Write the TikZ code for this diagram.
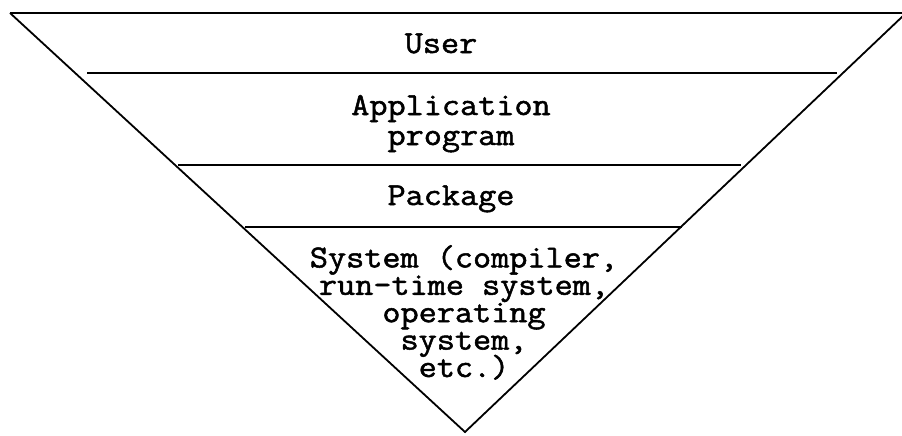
\documentclass[tikz,border=0pt]{standalone}
\usepackage{fontspec}
\setmonofont[FakeBold=1.6, FakeStretch=1.1]{Latin Modern Mono}
\usepackage{tikz}
\usetikzlibrary{calc}

\newcommand{\layerfont}{\ttfamily\fontsize{32}{27.4}\selectfont\lineskiplimit=-100pt\relax}
\tikzstyle{layer} = [
    inner sep=0pt,
    align=center,
    font=\layerfont
]
\tikzstyle{divider} = [
    line width=2.8pt
]
\tikzstyle{side} = [
    line width=1.8pt
]

\begin{document}
\begin{tikzpicture}[x=1pt, y=-1pt]
    \useasboundingbox (0,0) rectangle (902,436);

    % Funnel corners
    \coordinate (topleft) at (10,13);
    \coordinate (topright) at (902,13);
    \coordinate (tip) at (465,432);
    \coordinate (rightend) at (904,15);

    % Outline
    \draw[divider] (topleft) -- (topright);
    \draw[side, line join=miter] (topleft) -- (tip) -- (rightend);

    % Dividers between layers
    \draw[divider] (87,73) -- (837,73);
    \draw[divider] (178,165) -- (741,165);
    \draw[divider] (245,227) -- (682,227);

    % Layers (base = baseline of the last line)
    \node[layer, anchor=base] (user) at (441,53) {User};
    \node[layer, anchor=base] (app) at (451,145) {Application\\[2.6pt]program};
    \node[layer, anchor=base] (pkg) at (451,205) {Package};
    \node[layer, anchor=base] (sys) at (464,377) {System (compiler,\\run-time system,\\operating\\system,\\etc.)};
\end{tikzpicture}
\end{document}
